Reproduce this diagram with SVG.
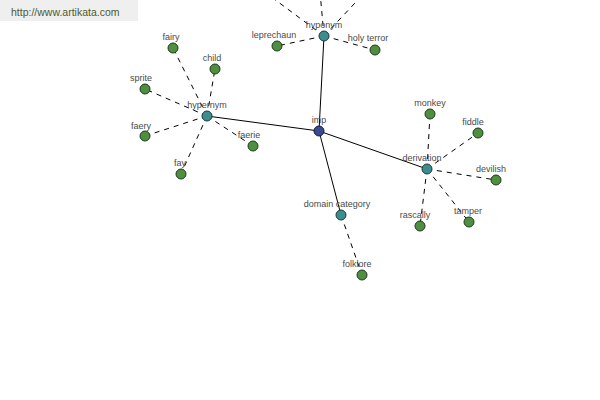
<svg xmlns="http://www.w3.org/2000/svg" width="600" height="400" viewBox="0 0 600 400">
<style>
text{font-family:"Liberation Sans",Arial,sans-serif;font-size:9px;fill:#4a4a4a;text-anchor:middle}
.solid{stroke:#000;stroke-width:1;fill:none}
.dash{stroke:#000;stroke-width:1;fill:none;stroke-dasharray:5,5}
.leaf{fill:#4f8f3f;stroke:#1e3a1e;stroke-width:1}
.rel{fill:#3c8e8e;stroke:#1e3a3a;stroke-width:1}
.root{fill:#3a4a92;stroke:#1a1a3a;stroke-width:1}
</style>
<rect width="600" height="400" fill="#fff"/>
<g id="watermark">
<rect x="0" y="0" width="138" height="21" fill="#efefef"/>
<text x="11" y="16" style="font-size:10.5px;fill:#4d5a2e;text-anchor:start">http://www.artikata.com</text>
</g>
<g id="connectors">
<line class="solid" x1="319" y1="131" x2="207" y2="116"/>
<line class="solid" x1="319" y1="131" x2="324" y2="36"/>
<line class="solid" x1="319" y1="131" x2="427" y2="169"/>
<line class="solid" x1="319" y1="131" x2="341" y2="215"/>
<line class="dash" x1="207" y1="116" x2="173" y2="48"/>
<line class="dash" x1="207" y1="116" x2="215" y2="69"/>
<line class="dash" x1="207" y1="116" x2="145" y2="89"/>
<line class="dash" x1="207" y1="116" x2="145" y2="136"/>
<line class="dash" x1="207" y1="116" x2="181" y2="174"/>
<line class="dash" x1="207" y1="116" x2="253" y2="146"/>
<line class="dash" x1="324" y1="36" x2="277" y2="46"/>
<line class="dash" x1="324" y1="36" x2="375" y2="50"/>
<line class="dash" x1="324" y1="36" x2="235" y2="-30"/>
<line class="dash" x1="324" y1="36" x2="318" y2="-30"/>
<line class="dash" x1="324" y1="36" x2="386" y2="-30"/>
<line class="dash" x1="427" y1="169" x2="430" y2="114"/>
<line class="dash" x1="427" y1="169" x2="478" y2="133"/>
<line class="dash" x1="427" y1="169" x2="496" y2="180"/>
<line class="dash" x1="427" y1="169" x2="469" y2="222"/>
<line class="dash" x1="427" y1="169" x2="420" y2="226"/>
<line class="dash" x1="341" y1="215" x2="362" y2="275"/>
</g>
<g id="imp"><circle class="root" cx="319" cy="131" r="5"/><text x="319" y="123">imp</text></g>
<g id="hypernym"><circle class="rel" cx="207" cy="116" r="5"/><text x="207" y="108">hypernym</text></g>
<g id="hyponym"><circle class="rel" cx="324" cy="36" r="5"/><text x="324" y="28">hyponym</text></g>
<g id="derivation"><circle class="rel" cx="427" cy="169" r="5"/><text x="422" y="161">derivation</text></g>
<g id="domain-category"><circle class="rel" cx="341" cy="215" r="5"/><text x="337" y="207">domain category</text></g>
<g id="fairy"><circle class="leaf" cx="173" cy="48" r="5"/><text x="171" y="40">fairy</text></g>
<g id="child"><circle class="leaf" cx="215" cy="69" r="5"/><text x="212" y="61">child</text></g>
<g id="sprite"><circle class="leaf" cx="145" cy="89" r="5"/><text x="141" y="81">sprite</text></g>
<g id="faery"><circle class="leaf" cx="145" cy="136" r="5"/><text x="141" y="129">faery</text></g>
<g id="fay"><circle class="leaf" cx="181" cy="174" r="5"/><text x="180" y="166">fay</text></g>
<g id="faerie"><circle class="leaf" cx="253" cy="146" r="5"/><text x="249" y="138">faerie</text></g>
<g id="leprechaun"><circle class="leaf" cx="277" cy="46" r="5"/><text x="274" y="38">leprechaun</text></g>
<g id="holy-terror"><circle class="leaf" cx="375" cy="50" r="5"/><text x="368" y="41">holy terror</text></g>
<g id="monkey"><circle class="leaf" cx="430" cy="114" r="5"/><text x="430" y="106">monkey</text></g>
<g id="fiddle"><circle class="leaf" cx="478" cy="133" r="5"/><text x="473" y="125">fiddle</text></g>
<g id="devilish"><circle class="leaf" cx="496" cy="180" r="5"/><text x="491" y="172">devilish</text></g>
<g id="tamper"><circle class="leaf" cx="469" cy="222" r="5"/><text x="468" y="214">tamper</text></g>
<g id="rascally"><circle class="leaf" cx="420" cy="226" r="5"/><text x="415" y="218">rascally</text></g>
<g id="folklore"><circle class="leaf" cx="362" cy="275" r="5"/><text x="357" y="267">folklore</text></g>
</svg>
